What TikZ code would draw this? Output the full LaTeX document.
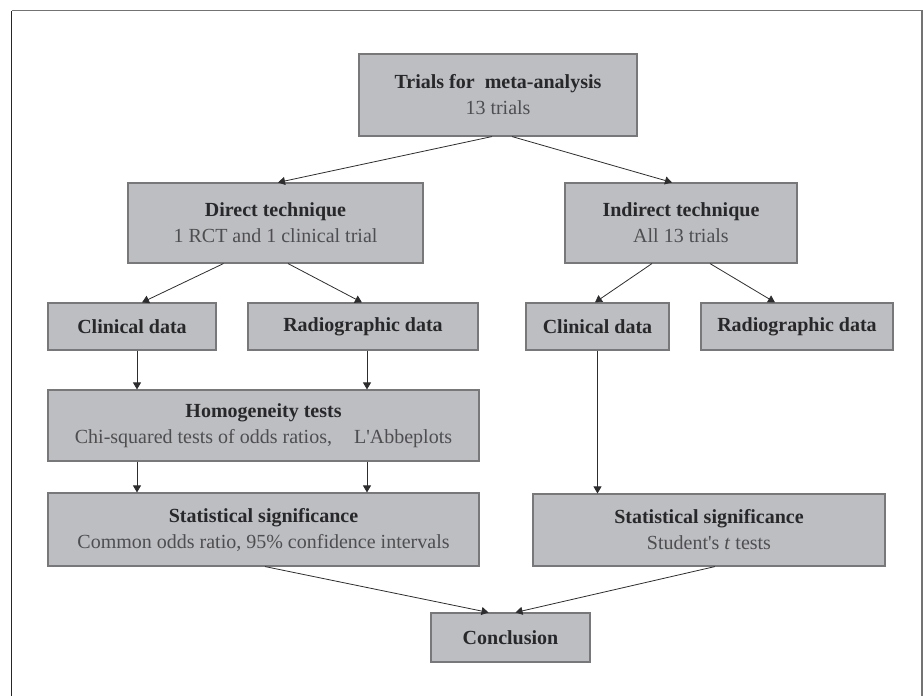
\documentclass[tikz,border=0pt]{standalone}
\usepackage{fontspec}
\setmainfont{Liberation Serif}
\usetikzlibrary{arrows.meta}
\definecolor{boxfill}{RGB}{189,190,194}
\definecolor{boxline}{RGB}{120,120,122}
\definecolor{headtext}{RGB}{40,40,42}
\definecolor{subtext}{RGB}{78,78,80}
\definecolor{linkcol}{RGB}{45,45,47}
\tikzset{
  stage/.style={draw=boxline, line width=1.1pt, fill=boxfill, rectangle,
    align=center, inner sep=0pt, text=headtext,
    font=\fontsize{20}{26}\selectfont},
  link/.style={draw=linkcol, line width=0.8pt, -{Triangle[length=7pt,width=8pt]}}
}
\newcommand{\sub}[1]{{\color{subtext}\mdseries #1}}
\begin{document}
\begin{tikzpicture}[x=1pt,y=-1pt]
	\useasboundingbox (0,0) rectangle (924,696);
	% outer frame
	\draw[line width=1.2pt, draw=black!85] (11.5,700) -- (11.5,10.5);
	\draw[line width=1.2pt, draw=black!55] (11.5,10.5) -- (922,10.5) -- (922,700);
	% boxes
	\node[stage, minimum width=278pt, minimum height=82pt] (top) at (498,95)
		{\textbf{Trials for\ \ meta-analysis}\\ \sub{13 trials}};
	\node[stage, minimum width=295pt, minimum height=80pt] (direct) at (275.5,223)
		{\textbf{Direct technique}\\ \sub{1 RCT and 1 clinical trial}};
	\node[stage, minimum width=232pt, minimum height=80pt] (indirect) at (681,223)
		{\textbf{Indirect technique}\\ \sub{All 13 trials}};
	\node[stage, minimum width=168pt, minimum height=47pt] (clinA) at (132,326.5)
		{\textbf{Clinical data}};
	\node[stage, minimum width=230pt, minimum height=47pt] (radioA) at (363,326.5)
		{\textbf{Radiographic data}};
	\node[stage, minimum width=143pt, minimum height=47pt] (clinB) at (597.5,326.5)
		{\textbf{Clinical data}};
	\node[stage, minimum width=192pt, minimum height=47pt] (radioB) at (797,326.5)
		{\textbf{Radiographic data}};
	\node[stage, minimum width=431pt, minimum height=71pt] (homog) at (263.5,425.5)
		{\textbf{Homogeneity tests}\\ \sub{Chi-squared tests of odds ratios,\hspace{22pt}L\textquotesingle Abbeplots}};
	\node[stage, minimum width=431pt, minimum height=73pt] (statA) at (263.5,529.5)
		{\textbf{Statistical significance}\\ \sub{Common odds ratio, 95\% confidence intervals}};
	\node[stage, minimum width=352pt, minimum height=72pt] (statB) at (709,530)
		{\textbf{Statistical significance}\\ \sub{Student\textquotesingle s \textit{t} tests}};
	\node[stage, minimum width=159pt, minimum height=49pt] (concl) at (510.5,637.5)
		{\textbf{Conclusion}};
	% connectors
	\draw[link] ([xshift=-6pt]top.south) -- ([xshift=2.5pt]direct.north);
	\draw[link] ([xshift=14pt]top.south) -- ([xshift=-9pt]indirect.north);
	\draw[link] ([xshift=-52pt]direct.south) -- ([xshift=10pt]clinA.north);
	\draw[link] ([xshift=12.5pt]direct.south) -- ([xshift=-1pt]radioA.north);
	\draw[link] ([xshift=-29pt]indirect.south) -- ([xshift=-2.5pt]clinB.north);
	\draw[link] ([xshift=29pt]indirect.south) -- ([xshift=-22pt]radioB.north);
	\draw[link] ([xshift=5pt]clinA.south) -- ([xshift=5pt]clinA.south |- homog.north);
	\draw[link] ([xshift=4pt]radioA.south) -- ([xshift=4pt]radioA.south |- homog.north);
	\draw[link] ([xshift=5pt]clinA.south |- homog.south) -- ([xshift=5pt]clinA.south |- statA.north);
	\draw[link] ([xshift=4pt]radioA.south |- homog.south) -- ([xshift=4pt]radioA.south |- statA.north);
	\draw[link] (clinB.south) -- (clinB.south |- statB.north);
	\draw[link] ([xshift=1.5pt]statA.south) -- ([xshift=-22pt]concl.north);
	\draw[link] ([xshift=6pt]statB.south) -- ([xshift=5pt]concl.north);
\end{tikzpicture}
\end{document}
